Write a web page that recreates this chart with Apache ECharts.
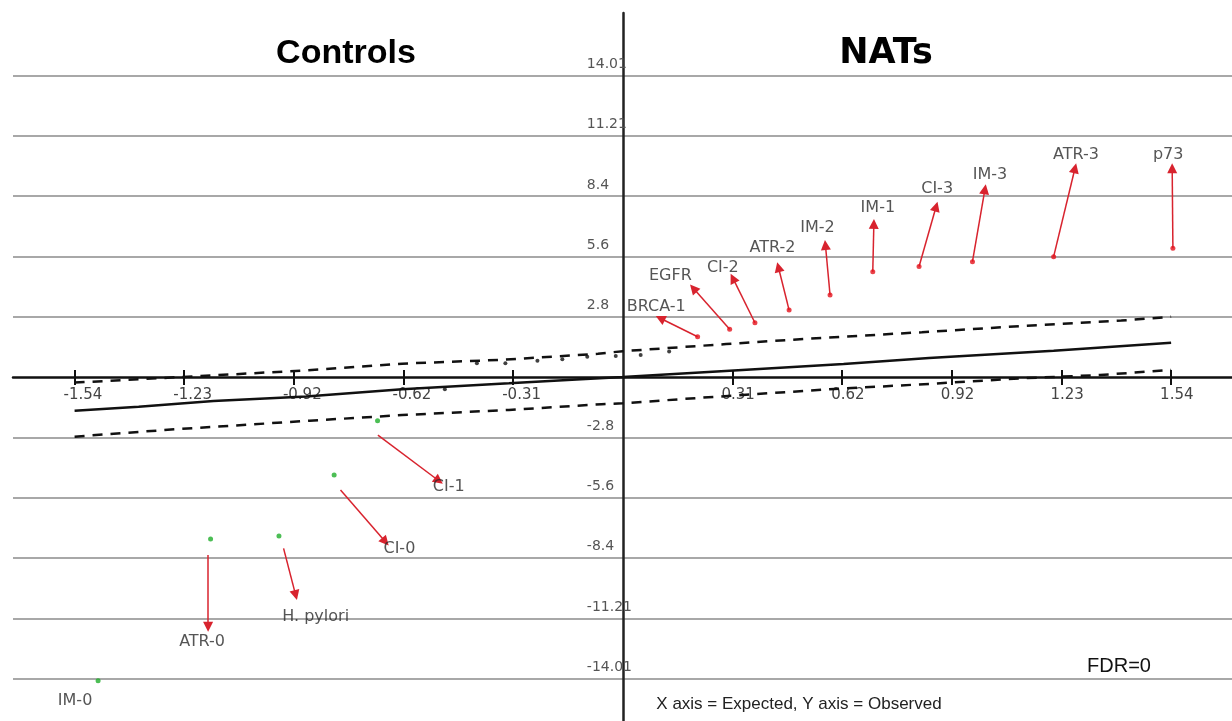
<!DOCTYPE html>
<html><head><meta charset="utf-8">
<script src="https://cdn.jsdelivr.net/npm/echarts@6/dist/echarts.min.js"></script>
<style>html,body{margin:0;padding:0;background:#fff}#chart{width:1232px;height:721px}</style>
</head><body><div id="chart"></div>
<script>
// ---- axis ticks ----
const xTickValues = [-1.54, -1.232, -0.924, -0.616, -0.308, 0.308, 0.616, 0.924, 1.232, 1.54];
const xTickLabels = ['-1.54', '-1.23', '-0.92', '-0.62', '-0.31', '0.31', '0.62', '0.92', '1.23', '1.54'];
const yTickValues = [-14.01, -11.21, -8.4, -5.6, -2.8, 2.8, 5.6, 8.4, 11.21, 14.01];
const yTickLabels = ['-14.01', '-11.21', '-8.4', '-5.6', '-2.8', '2.8', '5.6', '8.4', '11.21', '14.01'];
const xRange = [-1.713, 1.711];
const yRange = [-15.98, 16.91];

// ---- reference lines (expected vs observed) ----
const solidX = [-1.54, -1.36, -1.15, -0.89, -0.62, -0.32, -0.13, 0, 0.3, 0.62, 0.86, 1.21, 1.54];
const solidY = [-1.57, -1.38, -1.12, -0.9, -0.57, -0.29, -0.11, 0, 0.29, 0.6, 0.88, 1.22, 1.59];
const upperX = [-1.54, -1.31, -1.1, -0.89, -0.62, -0.34, -0.07, 0, 0.14, 0.29, 0.52, 0.84, 1.12, 1.4, 1.54];
const upperY = [-0.26, -0.06, 0.12, 0.31, 0.62, 0.8, 1.08, 1.2, 1.36, 1.53, 1.78, 2.08, 2.37, 2.62, 2.8];
const lowerX = [-1.54, -1.26, -1.04, -0.88, -0.62, -0.32, -0.06, 0, 0.24, 0.58, 0.86, 1.12, 1.34, 1.54];
const lowerY = [-2.77, -2.43, -2.2, -2.03, -1.77, -1.53, -1.26, -1.22, -0.94, -0.57, -0.32, -0.06, 0.09, 0.33];

// ---- non-significant points ----
const otherX = [-0.5, -0.41, -0.33, -0.24, -0.17, -0.1, -0.02, 0.05, 0.13];
const otherY = [-0.57, 0.64, 0.64, 0.76, 0.82, 0.94, 0.98, 1.02, 1.18];

// ---- NATs (red) ----
const natNames = ['BRCA-1', 'EGFR', 'CI-2', 'ATR-2', 'IM-2', 'IM-1', 'CI-3', 'IM-3', 'ATR-3', 'p73'];
const natExpected = [0.21, 0.30, 0.371, 0.467, 0.582, 0.702, 0.832, 0.982, 1.21, 1.545];
const natObserved = [1.87, 2.22, 2.52, 3.11, 3.81, 4.89, 5.13, 5.36, 5.59, 5.98];
const natTipX = [0.105, 0.198, 0.309, 0.437, 0.569, 0.705, 0.88, 1.017, 1.27, 1.543];
const natTipY = [2.73, 4.12, 4.59, 5.1, 6.13, 7.11, 7.92, 8.72, 9.7, 9.7];

// ---- Controls (green) ----
const ctlNames = ['CI-1', 'CI-0', 'H. pylori', 'ATR-0', 'IM-0'];
const ctlExpected = [-0.689, -0.811, -0.966, -1.158, -1.474];
const ctlObserved = [-2.03, -4.55, -7.39, -7.53, -14.11];
const ctlStartX = [-0.688, -0.793, -0.953, -1.165, null];
const ctlStartY = [-2.7, -5.25, -7.96, -8.27, null];
const ctlTipX = [-0.517, -0.667, -0.919, -1.165, null];
const ctlTipY = [-4.82, -7.65, -10.13, -11.6, null];

// ---- label nudges (pixels, style only) ----
const natNudge = {'BRCA-1': [-4, 0], 'EGFR': [-23, -1], 'CI-2': [-10, 1], 'ATR-2': [-6, -8], 'IM-2': [-8, -6],
  'IM-1': [4, -5], 'CI-3': [1, -6], 'IM-3': [5, -3], 'ATR-3': [1, -2], 'p73': [-4, -2]};
const ctlNudge = {'CI-1': [10, -5], 'CI-0': [14, -4], 'H. pylori': [20, 10], 'ATR-0': [-6, 4], 'IM-0': [-23, 9]};

const RED = '#e3121c', ARROW = '#d8232e', GREEN = '#1fae2a';
const GRID = {left: 13, right: 0, top: 13, bottom: 0};
const W = 1232, H = 721;
const zip = (a, b) => a.map((v, i) => [v, b[i]]);
const pick = (vals, labels) => v => {
  let best = 0;
  vals.forEach((t, i) => { if (Math.abs(t - v) < Math.abs(vals[best] - v)) best = i; });
  return labels[best];
};

// axis offsets so that axes cross at the origin (computed from the axis ranges)
const gridW = W - GRID.left - GRID.right, gridH = H - GRID.top - GRID.bottom;
const zeroXpx = gridW * (0 - xRange[0]) / (xRange[1] - xRange[0]);  // from grid left
const zeroYpx = gridH * (yRange[1] - 0) / (yRange[1] - yRange[0]);  // from grid top

const arrows = [];
natNames.forEach((n, i) => arrows.push({coords: [[natExpected[i], natObserved[i]], [natTipX[i], natTipY[i]]]}));
ctlNames.forEach((n, i) => { if (ctlTipX[i] != null) arrows.push({coords: [[ctlStartX[i], ctlStartY[i]], [ctlTipX[i], ctlTipY[i]]]}); });

const labelFont = {fontFamily: 'DejaVu Sans', fontSize: 16, color: '#2a2a2a'};
const natLabels = natNames.map((n, i) => ({
  value: [natTipX[i], natTipY[i]], name: n,
  label: {show: true, position: 'top', distance: 3, offset: natNudge[n], formatter: n, ...labelFont}
}));
const ctlLabels = ctlNames.map((n, i) => ({
  value: ctlTipX[i] != null ? [ctlTipX[i], ctlTipY[i]] : [ctlExpected[i], ctlObserved[i]], name: n,
  label: {show: true, position: 'bottom', distance: 3, offset: ctlNudge[n], formatter: n, ...labelFont}
}));

const chart = echarts.init(document.getElementById('chart'), null, {renderer: 'canvas'});
chart.setOption({
  animation: false,
  backgroundColor: '#fff',
  grid: {...GRID, containLabel: false, outerBoundsMode: 'none'},
  xAxis: [{
    type: 'value', min: xRange[0], max: xRange[1], position: 'bottom', offset: -(gridH - zeroYpx),
    axisLine: {show: true, onZero: false, lineStyle: {color: '#111', width: 2.5}},
    axisTick: {show: true, length: 8, customValues: xTickValues, lineStyle: {color: '#111', width: 2}},
    axisLabel: {show: true, customValues: xTickValues, formatter: pick(xTickValues, xTickLabels), margin: 11,
      align: 'left', padding: [0, 0, 0, -11], fontFamily: 'DejaVu Sans', fontSize: 15, color: '#444'},
    splitLine: {show: false}
  }, {
    type: 'value', min: xRange[0], max: xRange[1], position: 'top', offset: -zeroYpx,
    axisLine: {show: false, onZero: false},
    axisTick: {show: true, length: 7, customValues: xTickValues, lineStyle: {color: '#111', width: 2}},
    axisLabel: {show: false},
    splitLine: {show: false}
  }],
  yAxis: {
    type: 'value', min: yRange[0], max: yRange[1], position: 'left', offset: -zeroXpx,
    axisLine: {show: true, onZero: false, lineStyle: {color: '#222', width: 2.5}},
    axisTick: {show: false, customValues: yTickValues},
    axisLabel: {show: true, customValues: yTickValues, formatter: pick(yTickValues, yTickLabels), margin: 36,
      align: 'left', verticalAlign: 'bottom', padding: [0, 0, 4, 0], fontFamily: 'DejaVu Sans', fontSize: 14, color: '#555'},
    splitLine: {show: true, lineStyle: {color: '#a8a8a8', width: 2}}
  },
  graphic: [
    {type: 'text', x: 346, y: 54, style: {text: 'Controls', align: 'center', verticalAlign: 'middle',
      font: 'bold 34px "Liberation Sans"', fill: '#000'}},
    {type: 'text', x: 886, y: 54, style: {text: 'NATs', align: 'center', verticalAlign: 'middle',
      font: 'bold 35px "DejaVu Sans"', fill: '#000'}},
    {type: 'text', x: 1119, y: 666, style: {text: 'FDR=0', align: 'center', verticalAlign: 'middle',
      font: '20px "Liberation Sans"', fill: '#111'}},
    {type: 'text', x: 799, y: 704, style: {text: 'X axis = Expected, Y axis = Observed', align: 'center', verticalAlign: 'middle',
      font: '17px "Liberation Sans"', fill: '#222'}}
  ],
  series: [
    {type: 'line', data: zip(solidX, solidY), symbol: 'none', lineStyle: {color: '#111', width: 2.5}, z: 3},
    {type: 'line', data: zip(upperX, upperY), symbol: 'none', lineStyle: {color: '#111', width: 2.5, type: [10, 8]}, z: 3},
    {type: 'line', data: zip(lowerX, lowerY), symbol: 'none', lineStyle: {color: '#111', width: 2.5, type: [10, 8]}, z: 3},
    {type: 'scatter', data: zip(otherX, otherY), symbolSize: 4, itemStyle: {color: '#111'}, z: 4},
    {type: 'lines', coordinateSystem: 'cartesian2d', data: arrows, symbol: ['none', 'triangle'], symbolSize: [0, 10],
      lineStyle: {color: ARROW, width: 1.5, opacity: 1, curveness: 0}, itemStyle: {color: RED}, z: 5},
    {type: 'scatter', data: zip(natExpected, natObserved), symbolSize: 5, itemStyle: {color: RED}, z: 6},
    {type: 'scatter', data: zip(ctlExpected, ctlObserved), symbolSize: 5, itemStyle: {color: GREEN}, z: 6},
    {type: 'scatter', data: natLabels.concat(ctlLabels), symbolSize: 1, itemStyle: {color: 'rgba(0,0,0,0)'}, z: 7}
  ]
});
</script></body></html>
